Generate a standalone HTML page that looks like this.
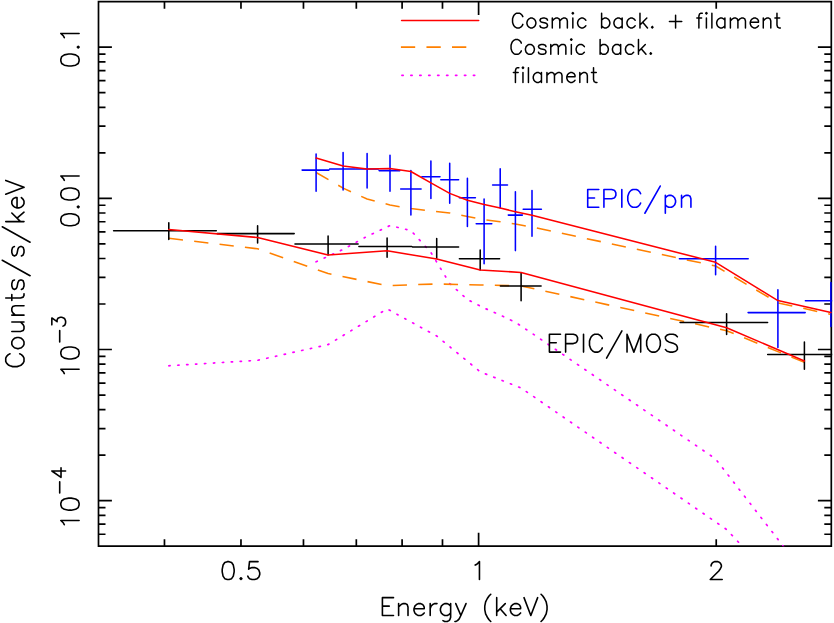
<!DOCTYPE html>
<html><head><meta charset="utf-8"><title>Spectrum</title><style>html,body{margin:0;padding:0;background:#fff;font-family:"Liberation Sans",sans-serif}svg{display:block}</style></head><body>
<svg width="834" height="623" viewBox="0 0 834 623">
<rect width="834" height="623" fill="#fff"/>
<defs><clipPath id="cp"><rect x="98.50" y="1.65" width="733.70" height="544.55"/></clipPath></defs>
<path d="M98.50 1.65H831.30V546.20H98.50ZM98.50 534.24h7.00M831.30 534.24h-7.00M98.50 524.12h7.00M831.30 524.12h-7.00M98.50 515.35h7.00M831.30 515.35h-7.00M98.50 507.62h7.00M831.30 507.62h-7.00M98.50 500.70h13.40M831.30 500.70h-13.40M98.50 455.19h7.00M831.30 455.19h-7.00M98.50 428.57h7.00M831.30 428.57h-7.00M98.50 409.68h7.00M831.30 409.68h-7.00M98.50 395.03h7.00M831.30 395.03h-7.00M98.50 383.06h7.00M831.30 383.06h-7.00M98.50 372.94h7.00M831.30 372.94h-7.00M98.50 364.17h7.00M831.30 364.17h-7.00M98.50 356.44h7.00M831.30 356.44h-7.00M98.50 349.52h13.40M831.30 349.52h-13.40M98.50 304.01h7.00M831.30 304.01h-7.00M98.50 277.39h7.00M831.30 277.39h-7.00M98.50 258.50h7.00M831.30 258.50h-7.00M98.50 243.85h7.00M831.30 243.85h-7.00M98.50 231.88h7.00M831.30 231.88h-7.00M98.50 221.76h7.00M831.30 221.76h-7.00M98.50 212.99h7.00M831.30 212.99h-7.00M98.50 205.26h7.00M831.30 205.26h-7.00M98.50 198.34h13.40M831.30 198.34h-13.40M98.50 152.83h7.00M831.30 152.83h-7.00M98.50 126.21h7.00M831.30 126.21h-7.00M98.50 107.32h7.00M831.30 107.32h-7.00M98.50 92.67h7.00M831.30 92.67h-7.00M98.50 80.70h7.00M831.30 80.70h-7.00M98.50 70.58h7.00M831.30 70.58h-7.00M98.50 61.81h7.00M831.30 61.81h-7.00M98.50 54.08h7.00M831.30 54.08h-7.00M98.50 47.16h13.40M831.30 47.16h-13.40M164.47 546.20v-7.00M164.47 1.65v7.00M240.97 546.20v-7.00M240.97 1.65v7.00M303.47 546.20v-7.00M303.47 1.65v7.00M356.32 546.20v-7.00M356.32 1.65v7.00M402.10 546.20v-7.00M402.10 1.65v7.00M442.48 546.20v-7.00M442.48 1.65v7.00M478.60 546.20v-13.40M478.60 1.65v13.40M716.23 546.20v-7.00M716.23 1.65v7.00" fill="none" stroke="#000" stroke-width="1.70" stroke-linecap="butt" stroke-linejoin="miter"/>
<g clip-path="url(#cp)" fill="none">
<path d="M316.1 261.8 L343.1 249.4 L367.1 236.3 L390.0 225.6 L410.9 230.5 L430.9 252.5 L449.7 283.5 L467.4 299.5 L484.1 308.0 L500.2 315.0 L515.4 322.3 L532.0 333.3 L715.6 458.9 L777.9 539.3 L830.9 608.0" stroke="#ff00ff" stroke-width="1.70" stroke-dasharray="1.3 7.64" stroke-linecap="round"/>
<path d="M168.8 365.8 L257.6 360.3 L328.1 344.6 L387.1 308.9 L436.7 336.0 L480.2 371.8 L521.1 388.0 L726.6 529.5 L804.4 612.7" stroke="#ff00ff" stroke-width="1.70" stroke-dasharray="1.3 7.64" stroke-linecap="round"/>
<path d="M316.1 172.5 L343.1 188.1 L367.1 199.0 L390.0 205.0 L410.9 208.6 L430.9 211.0 L449.7 212.9 L467.4 216.5 L484.1 219.6 L500.2 221.7 L515.4 224.1 L532.0 227.0 L715.6 266.0 L777.9 302.8 L830.9 314.4" stroke="#ff8000" stroke-width="1.55" stroke-dasharray="14.3 11.25" stroke-linejoin="round"/>
<path d="M168.8 238.2 L257.6 248.8 L328.1 273.6 L387.1 285.6 L436.7 284.0 L480.2 284.9 L521.1 285.9 L726.6 330.7 L804.4 362.4" stroke="#ff8000" stroke-width="1.55" stroke-dasharray="14.3 11.25" stroke-linejoin="round"/>
<path d="M113.6 230.7H216.3M168.8 222.7V239.5M217.1 233.6H294.2M257.6 225.8V242.9M295.0 244.0H358.1M328.1 235.9V254.9M358.9 246.4H411.7M387.1 237.9V257.3M412.5 246.9H458.6M436.7 238.4V258.3M459.4 258.7H499.6M480.2 249.9V269.9M500.4 285.9H541.1M521.1 272.8V300.7M680.1 322.5H767.6M726.6 313.7V334.4M767.7 354.5H839.6M804.4 341.9V369.3" stroke="#000" stroke-width="1.55" stroke-linecap="round"/>
<path d="M302.1 170.1H328.9M316.1 154.1V191.2M329.7 168.9H355.4M343.1 152.4V190.0M356.2 168.9H378.3M367.1 153.6V188.0M379.1 170.6H399.9M390.0 155.3V191.2M400.7 188.9H421.1M410.9 170.5V215.0M421.9 176.8H440.0M430.9 160.9V198.4M440.8 179.7H458.6M449.7 163.3V203.2M459.4 197.8H475.4M467.4 178.2V226.5M476.2 223.8H491.8M484.1 198.9V263.8M492.6 185.0H507.5M500.2 168.8V208.0M508.3 215.1H522.4M515.4 191.7V250.6M523.2 209.3H541.4M532.0 190.5V236.2M679.4 258.7H748.2M715.6 246.3V274.7M748.1 312.6H805.2M777.9 289.7V347.4M805.4 300.8H839.6M830.9 282.4V326.5" stroke="#0000ff" stroke-width="1.55" stroke-linecap="round"/>
<path d="M316.1 158.1 L343.1 166.0 L367.1 169.1 L390.0 168.4 L410.9 171.5 L430.9 182.8 L449.7 193.4 L467.4 200.2 L484.1 204.5 L500.2 208.1 L515.4 211.7 L532.0 215.3 L715.6 262.3 L777.9 300.6 L830.9 312.6" stroke="#ff0000" stroke-width="1.55" stroke-linejoin="round" stroke-linecap="round"/>
<path d="M168.8 229.5 L257.6 237.5 L328.1 255.0 L387.1 250.7 L436.7 259.1 L480.2 270.0 L521.1 272.4 L726.6 327.8 L804.4 361.0" stroke="#ff0000" stroke-width="1.55" stroke-linejoin="round" stroke-linecap="round"/>
</g>
<g transform="translate(240.97 579.50) rotate(0) translate(-21.32 0)"><path d="M7.68 -17.85L5.12 -17.00L3.41 -14.45L2.56 -10.20L2.56 -7.65L3.41 -3.40L5.12 -0.85L7.68 0.00L9.38 0.00L11.94 -0.85L13.65 -3.40L14.50 -7.65L14.50 -10.20L13.65 -14.45L11.94 -17.00L9.38 -17.85L7.68 -17.85M21.32 -1.70L20.47 -0.85L21.32 0.00L22.18 -0.85L21.32 -1.70M38.38 -17.85L29.86 -17.85L29.00 -10.20L29.86 -11.05L32.41 -11.90L34.97 -11.90L37.53 -11.05L39.24 -9.35L40.09 -6.80L40.09 -5.10L39.24 -2.55L37.53 -0.85L34.97 0.00L32.41 0.00L29.86 -0.85L29.00 -1.70L28.15 -3.40" fill="none" stroke="#000" stroke-width="1.60" stroke-linecap="round" stroke-linejoin="round"/></g>
<g transform="translate(478.60 579.50) rotate(0) translate(-8.53 0)"><path d="M5.12 -14.45L6.82 -15.30L9.38 -17.85L9.38 0.00" fill="none" stroke="#000" stroke-width="1.60" stroke-linecap="round" stroke-linejoin="round"/></g>
<g transform="translate(716.23 579.50) rotate(0) translate(-8.53 0)"><path d="M3.41 -13.60L3.41 -14.45L4.26 -16.15L5.12 -17.00L6.82 -17.85L10.24 -17.85L11.94 -17.00L12.79 -16.15L13.65 -14.45L13.65 -12.75L12.79 -11.05L11.09 -8.50L2.56 0.00L14.50 0.00" fill="none" stroke="#000" stroke-width="1.60" stroke-linecap="round" stroke-linejoin="round"/></g>
<g transform="translate(379.00 615.50) rotate(0) translate(0.00 0)"><path d="M3.41 -17.85L3.41 0.00M3.41 -17.85L14.50 -17.85M3.41 -9.35L10.24 -9.35M3.41 0.00L14.50 0.00M19.62 -11.90L19.62 0.00M19.62 -8.50L22.18 -11.05L23.88 -11.90L26.44 -11.90L28.15 -11.05L29.00 -8.50L29.00 0.00M34.97 -6.80L45.21 -6.80L45.21 -8.50L44.36 -10.20L43.50 -11.05L41.80 -11.90L39.24 -11.90L37.53 -11.05L35.83 -9.35L34.97 -6.80L34.97 -5.10L35.83 -2.55L37.53 -0.85L39.24 0.00L41.80 0.00L43.50 -0.85L45.21 -2.55M51.18 -11.90L51.18 0.00M51.18 -6.80L52.03 -9.35L53.74 -11.05L55.45 -11.90L58.00 -11.90M71.65 -11.90L71.65 1.70L70.80 4.25L69.95 5.10L68.24 5.95L65.68 5.95L63.98 5.10M71.65 -9.35L69.95 -11.05L68.24 -11.90L65.68 -11.90L63.98 -11.05L62.27 -9.35L61.42 -6.80L61.42 -5.10L62.27 -2.55L63.98 -0.85L65.68 0.00L68.24 0.00L69.95 -0.85L71.65 -2.55M76.77 -11.90L81.89 0.00M87.01 -11.90L81.89 0.00L80.18 3.40L78.48 5.10L76.77 5.95L75.92 5.95M111.74 -21.25L110.04 -19.55L108.33 -17.00L106.62 -13.60L105.77 -9.35L105.77 -5.95L106.62 -1.70L108.33 1.70L110.04 4.25L111.74 5.95M117.71 -17.85L117.71 0.00M126.24 -11.90L117.71 -3.40M121.13 -6.80L127.10 0.00M131.36 -6.80L141.60 -6.80L141.60 -8.50L140.75 -10.20L139.89 -11.05L138.19 -11.90L135.63 -11.90L133.92 -11.05L132.22 -9.35L131.36 -6.80L131.36 -5.10L132.22 -2.55L133.92 -0.85L135.63 0.00L138.19 0.00L139.89 -0.85L141.60 -2.55M145.01 -17.85L151.83 0.00M158.66 -17.85L151.83 0.00M162.07 -21.25L163.78 -19.55L165.48 -17.00L167.19 -13.60L168.04 -9.35L168.04 -5.95L167.19 -1.70L165.48 1.70L163.78 4.25L162.07 5.95" fill="none" stroke="#000" stroke-width="1.60" stroke-linecap="round" stroke-linejoin="round"/></g>
<g transform="translate(79.10 47.16) rotate(-90) translate(-21.45 0)"><path d="M7.72 -18.27L5.15 -17.40L3.43 -14.79L2.57 -10.44L2.57 -7.83L3.43 -3.48L5.15 -0.87L7.72 0.00L9.44 0.00L12.01 -0.87L13.73 -3.48L14.59 -7.83L14.59 -10.44L13.73 -14.79L12.01 -17.40L9.44 -18.27L7.72 -18.27M21.45 -1.74L20.59 -0.87L21.45 0.00L22.31 -0.87L21.45 -1.74M30.89 -14.79L32.60 -15.66L35.18 -18.27L35.18 0.00" fill="none" stroke="#000" stroke-width="1.60" stroke-linecap="round" stroke-linejoin="round"/></g>
<g transform="translate(79.10 198.34) rotate(-90) translate(-30.03 0)"><path d="M7.72 -18.27L5.15 -17.40L3.43 -14.79L2.57 -10.44L2.57 -7.83L3.43 -3.48L5.15 -0.87L7.72 0.00L9.44 0.00L12.01 -0.87L13.73 -3.48L14.59 -7.83L14.59 -10.44L13.73 -14.79L12.01 -17.40L9.44 -18.27L7.72 -18.27M21.45 -1.74L20.59 -0.87L21.45 0.00L22.31 -0.87L21.45 -1.74M33.46 -18.27L30.89 -17.40L29.17 -14.79L28.31 -10.44L28.31 -7.83L29.17 -3.48L30.89 -0.87L33.46 0.00L35.18 0.00L37.75 -0.87L39.47 -3.48L40.33 -7.83L40.33 -10.44L39.47 -14.79L37.75 -17.40L35.18 -18.27L33.46 -18.27M48.05 -14.79L49.76 -15.66L52.34 -18.27L52.34 0.00" fill="none" stroke="#000" stroke-width="1.60" stroke-linecap="round" stroke-linejoin="round"/></g>
<g transform="translate(79.10 378.72) rotate(-90) translate(0.00 0)"><path d="M5.15 -14.79L6.86 -15.66L9.44 -18.27L9.44 0.00M24.88 -18.27L22.31 -17.40L20.59 -14.79L19.73 -10.44L19.73 -7.83L20.59 -3.48L22.31 -0.87L24.88 0.00L26.60 0.00L29.17 -0.87L30.89 -3.48L31.75 -7.83L31.75 -10.44L30.89 -14.79L29.17 -17.40L26.60 -18.27L24.88 -18.27" fill="none" stroke="#000" stroke-width="1.60" stroke-linecap="round" stroke-linejoin="round"/></g>
<g transform="translate(65.60 344.40) rotate(-90) translate(0.00 0)"><path d="M2.52 -5.90L13.86 -5.90M19.53 -13.76L26.46 -13.76L22.68 -8.52L24.57 -8.52L25.83 -7.86L26.46 -7.21L27.09 -5.24L27.09 -3.93L26.46 -1.97L25.20 -0.66L23.31 0.00L21.42 0.00L19.53 -0.66L18.90 -1.31L18.27 -2.62" fill="none" stroke="#000" stroke-width="1.60" stroke-linecap="round" stroke-linejoin="round"/></g>
<g transform="translate(79.10 529.90) rotate(-90) translate(0.00 0)"><path d="M5.15 -14.79L6.86 -15.66L9.44 -18.27L9.44 0.00M24.88 -18.27L22.31 -17.40L20.59 -14.79L19.73 -10.44L19.73 -7.83L20.59 -3.48L22.31 -0.87L24.88 0.00L26.60 0.00L29.17 -0.87L30.89 -3.48L31.75 -7.83L31.75 -10.44L30.89 -14.79L29.17 -17.40L26.60 -18.27L24.88 -18.27" fill="none" stroke="#000" stroke-width="1.60" stroke-linecap="round" stroke-linejoin="round"/></g>
<g transform="translate(65.60 495.58) rotate(-90) translate(0.00 0)"><path d="M2.52 -5.90L13.86 -5.90M24.57 -13.76L18.27 -4.58L27.72 -4.58M24.57 -13.76L24.57 0.00" fill="none" stroke="#000" stroke-width="1.60" stroke-linecap="round" stroke-linejoin="round"/></g>
<g transform="translate(24.00 369.20) rotate(-90) translate(0.00 0)"><path d="M15.44 -13.92L14.59 -15.66L12.87 -17.40L11.15 -18.27L7.72 -18.27L6.01 -17.40L4.29 -15.66L3.43 -13.92L2.57 -11.31L2.57 -6.96L3.43 -4.35L4.29 -2.61L6.01 -0.87L7.72 0.00L11.15 0.00L12.87 -0.87L14.59 -2.61L15.44 -4.35M24.88 -12.18L23.17 -11.31L21.45 -9.57L20.59 -6.96L20.59 -5.22L21.45 -2.61L23.17 -0.87L24.88 0.00L27.46 0.00L29.17 -0.87L30.89 -2.61L31.75 -5.22L31.75 -6.96L30.89 -9.57L29.17 -11.31L27.46 -12.18L24.88 -12.18M37.75 -12.18L37.75 -3.48L38.61 -0.87L40.33 0.00L42.90 0.00L44.62 -0.87L47.19 -3.48M47.19 -12.18L47.19 0.00M54.05 -12.18L54.05 0.00M54.05 -8.70L56.63 -11.31L58.34 -12.18L60.92 -12.18L62.63 -11.31L63.49 -8.70L63.49 0.00M71.21 -18.27L71.21 -3.48L72.07 -0.87L73.79 0.00L75.50 0.00M68.64 -12.18L74.65 -12.18M89.23 -9.57L88.37 -11.31L85.80 -12.18L83.23 -12.18L80.65 -11.31L79.79 -9.57L80.65 -7.83L82.37 -6.96L86.66 -6.09L88.37 -5.22L89.23 -3.48L89.23 -2.61L88.37 -0.87L85.80 0.00L83.23 0.00L80.65 -0.87L79.79 -2.61M108.97 -21.75L93.52 6.09M122.69 -9.57L121.84 -11.31L119.26 -12.18L116.69 -12.18L114.11 -11.31L113.26 -9.57L114.11 -7.83L115.83 -6.96L120.12 -6.09L121.84 -5.22L122.69 -3.48L122.69 -2.61L121.84 -0.87L119.26 0.00L116.69 0.00L114.11 -0.87L113.26 -2.61M142.43 -21.75L126.98 6.09M147.58 -18.27L147.58 0.00M156.16 -12.18L147.58 -3.48M151.01 -6.96L157.01 0.00M161.30 -6.96L171.60 -6.96L171.60 -8.70L170.74 -10.44L169.88 -11.31L168.17 -12.18L165.59 -12.18L163.88 -11.31L162.16 -9.57L161.30 -6.96L161.30 -5.22L162.16 -2.61L163.88 -0.87L165.59 0.00L168.17 0.00L169.88 -0.87L171.60 -2.61M175.03 -18.27L181.90 0.00M188.76 -18.27L181.90 0.00" fill="none" stroke="#000" stroke-width="1.60" stroke-linecap="round" stroke-linejoin="round"/></g>
<path d="M401.60 20.50H478.70" stroke="#ff0000" stroke-width="1.55" stroke-linecap="round"/>
<path d="M400.90 47.10H472.70" stroke="#ff8000" stroke-width="1.55" stroke-dasharray="14.3 11.25"/>
<path d="M401.90 75.35H478.70" stroke="#ff00ff" stroke-width="1.70" stroke-dasharray="1.3 7.64" stroke-linecap="round"/>
<g transform="translate(510.50 27.90) rotate(0) translate(0.00 0)"><path d="M12.33 -11.20L11.65 -12.60L10.28 -14.00L8.91 -14.70L6.17 -14.70L4.79 -14.00L3.43 -12.60L2.74 -11.20L2.06 -9.10L2.06 -5.60L2.74 -3.50L3.43 -2.10L4.79 -0.70L6.17 0.00L8.91 0.00L10.28 -0.70L11.65 -2.10L12.33 -3.50M19.87 -9.80L18.50 -9.10L17.12 -7.70L16.44 -5.60L16.44 -4.20L17.12 -2.10L18.50 -0.70L19.87 0.00L21.92 0.00L23.29 -0.70L24.66 -2.10L25.35 -4.20L25.35 -5.60L24.66 -7.70L23.29 -9.10L21.92 -9.80L19.87 -9.80M36.99 -7.70L36.30 -9.10L34.25 -9.80L32.20 -9.80L30.14 -9.10L29.46 -7.70L30.14 -6.30L31.51 -5.60L34.94 -4.90L36.30 -4.20L36.99 -2.80L36.99 -2.10L36.30 -0.70L34.25 0.00L32.20 0.00L30.14 -0.70L29.46 -2.10M41.79 -9.80L41.79 0.00M41.79 -7.00L43.84 -9.10L45.21 -9.80L47.27 -9.80L48.64 -9.10L49.32 -7.00L49.32 0.00M49.32 -7.00L51.38 -9.10L52.75 -9.80L54.80 -9.80L56.17 -9.10L56.86 -7.00L56.86 0.00M61.65 -14.70L62.34 -14.00L63.02 -14.70L62.34 -15.40L61.65 -14.70M62.34 -9.80L62.34 0.00M75.35 -7.70L73.98 -9.10L72.61 -9.80L70.56 -9.80L69.19 -9.10L67.82 -7.70L67.13 -5.60L67.13 -4.20L67.82 -2.10L69.19 -0.70L70.56 0.00L72.61 0.00L73.98 -0.70L75.35 -2.10M91.11 -14.70L91.11 0.00M91.11 -7.70L92.48 -9.10L93.85 -9.80L95.90 -9.80L97.27 -9.10L98.64 -7.70L99.33 -5.60L99.33 -4.20L98.64 -2.10L97.27 -0.70L95.90 0.00L93.85 0.00L92.48 -0.70L91.11 -2.10M111.66 -9.80L111.66 0.00M111.66 -7.70L110.29 -9.10L108.92 -9.80L106.86 -9.80L105.49 -9.10L104.12 -7.70L103.44 -5.60L103.44 -4.20L104.12 -2.10L105.49 -0.70L106.86 0.00L108.92 0.00L110.29 -0.70L111.66 -2.10M124.67 -7.70L123.30 -9.10L121.93 -9.80L119.88 -9.80L118.51 -9.10L117.14 -7.70L116.45 -5.60L116.45 -4.20L117.14 -2.10L118.51 -0.70L119.88 0.00L121.93 0.00L123.30 -0.70L124.67 -2.10M129.47 -14.70L129.47 0.00M136.31 -9.80L129.47 -2.80M132.21 -5.60L137.00 0.00M141.80 -1.40L141.11 -0.70L141.80 0.00L142.48 -0.70L141.80 -1.40M165.09 -12.60L165.09 0.00M158.92 -6.30L171.25 -6.30M191.80 -14.70L190.43 -14.70L189.06 -14.00L188.38 -11.90L188.38 0.00M186.32 -9.80L191.12 -9.80M195.23 -14.70L195.91 -14.00L196.60 -14.70L195.91 -15.40L195.23 -14.70M195.91 -9.80L195.91 0.00M201.39 -14.70L201.39 0.00M214.41 -9.80L214.41 0.00M214.41 -7.70L213.04 -9.10L211.67 -9.80L209.61 -9.80L208.24 -9.10L206.87 -7.70L206.19 -5.60L206.19 -4.20L206.87 -2.10L208.24 -0.70L209.61 0.00L211.67 0.00L213.04 -0.70L214.41 -2.10M219.89 -9.80L219.89 0.00M219.89 -7.00L221.94 -9.10L223.31 -9.80L225.37 -9.80L226.74 -9.10L227.42 -7.00L227.42 0.00M227.42 -7.00L229.48 -9.10L230.85 -9.80L232.90 -9.80L234.27 -9.10L234.96 -7.00L234.96 0.00M239.75 -5.60L247.97 -5.60L247.97 -7.00L247.29 -8.40L246.60 -9.10L245.23 -9.80L243.18 -9.80L241.81 -9.10L240.44 -7.70L239.75 -5.60L239.75 -4.20L240.44 -2.10L241.81 -0.70L243.18 0.00L245.23 0.00L246.60 -0.70L247.97 -2.10M252.77 -9.80L252.77 0.00M252.77 -7.00L254.82 -9.10L256.19 -9.80L258.25 -9.80L259.62 -9.10L260.30 -7.00L260.30 0.00M266.47 -14.70L266.47 -2.80L267.15 -0.70L268.52 0.00L269.89 0.00M264.41 -9.80L269.21 -9.80" fill="none" stroke="#000" stroke-width="1.50" stroke-linecap="round" stroke-linejoin="round"/></g>
<g transform="translate(509.00 54.30) rotate(0) translate(0.00 0)"><path d="M12.33 -11.20L11.65 -12.60L10.28 -14.00L8.91 -14.70L6.17 -14.70L4.79 -14.00L3.43 -12.60L2.74 -11.20L2.06 -9.10L2.06 -5.60L2.74 -3.50L3.43 -2.10L4.79 -0.70L6.17 0.00L8.91 0.00L10.28 -0.70L11.65 -2.10L12.33 -3.50M19.87 -9.80L18.50 -9.10L17.12 -7.70L16.44 -5.60L16.44 -4.20L17.12 -2.10L18.50 -0.70L19.87 0.00L21.92 0.00L23.29 -0.70L24.66 -2.10L25.35 -4.20L25.35 -5.60L24.66 -7.70L23.29 -9.10L21.92 -9.80L19.87 -9.80M36.99 -7.70L36.30 -9.10L34.25 -9.80L32.20 -9.80L30.14 -9.10L29.46 -7.70L30.14 -6.30L31.51 -5.60L34.94 -4.90L36.30 -4.20L36.99 -2.80L36.99 -2.10L36.30 -0.70L34.25 0.00L32.20 0.00L30.14 -0.70L29.46 -2.10M41.79 -9.80L41.79 0.00M41.79 -7.00L43.84 -9.10L45.21 -9.80L47.27 -9.80L48.64 -9.10L49.32 -7.00L49.32 0.00M49.32 -7.00L51.38 -9.10L52.75 -9.80L54.80 -9.80L56.17 -9.10L56.86 -7.00L56.86 0.00M61.65 -14.70L62.34 -14.00L63.02 -14.70L62.34 -15.40L61.65 -14.70M62.34 -9.80L62.34 0.00M75.35 -7.70L73.98 -9.10L72.61 -9.80L70.56 -9.80L69.19 -9.10L67.82 -7.70L67.13 -5.60L67.13 -4.20L67.82 -2.10L69.19 -0.70L70.56 0.00L72.61 0.00L73.98 -0.70L75.35 -2.10M91.11 -14.70L91.11 0.00M91.11 -7.70L92.48 -9.10L93.85 -9.80L95.90 -9.80L97.27 -9.10L98.64 -7.70L99.33 -5.60L99.33 -4.20L98.64 -2.10L97.27 -0.70L95.90 0.00L93.85 0.00L92.48 -0.70L91.11 -2.10M111.66 -9.80L111.66 0.00M111.66 -7.70L110.29 -9.10L108.92 -9.80L106.86 -9.80L105.49 -9.10L104.12 -7.70L103.44 -5.60L103.44 -4.20L104.12 -2.10L105.49 -0.70L106.86 0.00L108.92 0.00L110.29 -0.70L111.66 -2.10M124.67 -7.70L123.30 -9.10L121.93 -9.80L119.88 -9.80L118.51 -9.10L117.14 -7.70L116.45 -5.60L116.45 -4.20L117.14 -2.10L118.51 -0.70L119.88 0.00L121.93 0.00L123.30 -0.70L124.67 -2.10M129.47 -14.70L129.47 0.00M136.31 -9.80L129.47 -2.80M132.21 -5.60L137.00 0.00M141.80 -1.40L141.11 -0.70L141.80 0.00L142.48 -0.70L141.80 -1.40" fill="none" stroke="#000" stroke-width="1.50" stroke-linecap="round" stroke-linejoin="round"/></g>
<g transform="translate(512.00 82.40) rotate(0) translate(0.00 0)"><path d="M6.85 -14.70L5.48 -14.70L4.11 -14.00L3.43 -11.90L3.43 0.00M1.37 -9.80L6.17 -9.80M10.28 -14.70L10.96 -14.00L11.65 -14.70L10.96 -15.40L10.28 -14.70M10.96 -9.80L10.96 0.00M16.44 -14.70L16.44 0.00M29.46 -9.80L29.46 0.00M29.46 -7.70L28.09 -9.10L26.72 -9.80L24.66 -9.80L23.29 -9.10L21.92 -7.70L21.24 -5.60L21.24 -4.20L21.92 -2.10L23.29 -0.70L24.66 0.00L26.72 0.00L28.09 -0.70L29.46 -2.10M34.94 -9.80L34.94 0.00M34.94 -7.00L36.99 -9.10L38.36 -9.80L40.42 -9.80L41.79 -9.10L42.47 -7.00L42.47 0.00M42.47 -7.00L44.53 -9.10L45.90 -9.80L47.95 -9.80L49.32 -9.10L50.01 -7.00L50.01 0.00M54.80 -5.60L63.02 -5.60L63.02 -7.00L62.34 -8.40L61.65 -9.10L60.28 -9.80L58.23 -9.80L56.86 -9.10L55.49 -7.70L54.80 -5.60L54.80 -4.20L55.49 -2.10L56.86 -0.70L58.23 0.00L60.28 0.00L61.65 -0.70L63.02 -2.10M67.82 -9.80L67.82 0.00M67.82 -7.00L69.87 -9.10L71.24 -9.80L73.30 -9.80L74.67 -9.10L75.35 -7.00L75.35 0.00M81.52 -14.70L81.52 -2.80L82.20 -0.70L83.57 0.00L84.94 0.00M79.46 -9.80L84.26 -9.80" fill="none" stroke="#000" stroke-width="1.50" stroke-linecap="round" stroke-linejoin="round"/></g>
<g transform="translate(584.30 207.30) rotate(0) translate(0.00 0)"><path d="M3.41 -17.85L3.41 0.00M3.41 -17.85L14.50 -17.85M3.41 -9.35L10.24 -9.35M3.41 0.00L14.50 0.00M19.62 -17.85L19.62 0.00M19.62 -17.85L27.30 -17.85L29.86 -17.00L30.71 -16.15L31.56 -14.45L31.56 -11.90L30.71 -10.20L29.86 -9.35L27.30 -8.50L19.62 -8.50M37.53 -17.85L37.53 0.00M56.30 -13.60L55.45 -15.30L53.74 -17.00L52.03 -17.85L48.62 -17.85L46.91 -17.00L45.21 -15.30L44.36 -13.60L43.50 -11.05L43.50 -6.80L44.36 -4.25L45.21 -2.55L46.91 -0.85L48.62 0.00L52.03 0.00L53.74 -0.85L55.45 -2.55L56.30 -4.25M75.92 -21.25L60.56 5.95M81.03 -11.90L81.03 5.95M81.03 -9.35L82.74 -11.05L84.45 -11.90L87.01 -11.90L88.71 -11.05L90.42 -9.35L91.27 -6.80L91.27 -5.10L90.42 -2.55L88.71 -0.85L87.01 0.00L84.45 0.00L82.74 -0.85L81.03 -2.55M97.24 -11.90L97.24 0.00M97.24 -8.50L99.80 -11.05L101.51 -11.90L104.07 -11.90L105.77 -11.05L106.62 -8.50L106.62 0.00" fill="none" stroke="#0000ff" stroke-width="1.60" stroke-linecap="round" stroke-linejoin="round"/></g>
<g transform="translate(546.00 352.10) rotate(0) translate(0.00 0)"><path d="M3.41 -17.85L3.41 0.00M3.41 -17.85L14.50 -17.85M3.41 -9.35L10.24 -9.35M3.41 0.00L14.50 0.00M19.62 -17.85L19.62 0.00M19.62 -17.85L27.30 -17.85L29.86 -17.00L30.71 -16.15L31.56 -14.45L31.56 -11.90L30.71 -10.20L29.86 -9.35L27.30 -8.50L19.62 -8.50M37.53 -17.85L37.53 0.00M56.30 -13.60L55.45 -15.30L53.74 -17.00L52.03 -17.85L48.62 -17.85L46.91 -17.00L45.21 -15.30L44.36 -13.60L43.50 -11.05L43.50 -6.80L44.36 -4.25L45.21 -2.55L46.91 -0.85L48.62 0.00L52.03 0.00L53.74 -0.85L55.45 -2.55L56.30 -4.25M75.92 -21.25L60.56 5.95M81.03 -17.85L81.03 0.00M81.03 -17.85L87.86 0.00M94.68 -17.85L87.86 0.00M94.68 -17.85L94.68 0.00M105.77 -17.85L104.07 -17.00L102.36 -15.30L101.51 -13.60L100.65 -11.05L100.65 -6.80L101.51 -4.25L102.36 -2.55L104.07 -0.85L105.77 0.00L109.18 0.00L110.89 -0.85L112.60 -2.55L113.45 -4.25L114.30 -6.80L114.30 -11.05L113.45 -13.60L112.60 -15.30L110.89 -17.00L109.18 -17.85L105.77 -17.85M131.36 -15.30L129.66 -17.00L127.10 -17.85L123.69 -17.85L121.13 -17.00L119.42 -15.30L119.42 -13.60L120.27 -11.90L121.13 -11.05L122.83 -10.20L127.95 -8.50L129.66 -7.65L130.51 -6.80L131.36 -5.10L131.36 -2.55L129.66 -0.85L127.10 0.00L123.69 0.00L121.13 -0.85L119.42 -2.55" fill="none" stroke="#000" stroke-width="1.60" stroke-linecap="round" stroke-linejoin="round"/></g>
</svg>
</body></html>
